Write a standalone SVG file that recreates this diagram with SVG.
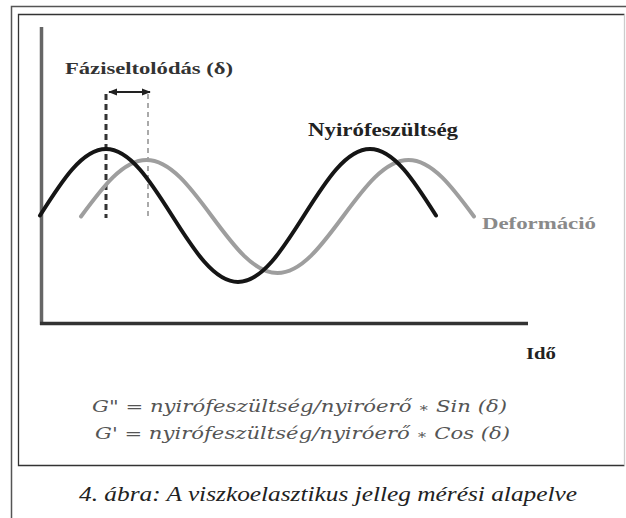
<svg xmlns="http://www.w3.org/2000/svg" width="626" height="518" viewBox="0 0 626 518">
<style>
.lbl{font-family:"Liberation Serif","Times New Roman",serif;font-weight:bold;}
.frm{font-family:"DejaVu Serif","Liberation Serif",serif;font-style:italic;fill:#555;font-size:17px;}
.op{font-size:13px;}
.cap{font-family:"Liberation Serif","Times New Roman",serif;font-style:italic;fill:#222;font-size:21px;}
.curve{fill:none;stroke-width:4;stroke-linecap:round;}
</style>
<defs>
<marker id="ah" viewBox="0 0 10 10" refX="9" refY="5" markerWidth="4.5" markerHeight="4.5" orient="auto-start-reverse" markerUnits="strokeWidth">
<path d="M0,1 L10,5 L0,9 Z" fill="#222"/>
</marker>
</defs>
<rect width="626" height="518" fill="#fff"/>
<g id="frame">
<path d="M11.5,518 V6.5 H626" fill="none" stroke="#555" stroke-width="1.5"/>
<path d="M624.5,14.5 H18.5 V465.5 H624.5" fill="none" stroke="#333" stroke-width="1.3"/>
<path d="M624.5,14.5 V465.5" fill="none" stroke="#ccc" stroke-width="1.3"/>
</g>
<g id="axes">
<line x1="41.5" y1="27" x2="41.5" y2="325" stroke="#666" stroke-width="3.5"/>
<line x1="40" y1="323.5" x2="528" y2="323.5" stroke="#333" stroke-width="3.5"/>
</g>
<g id="phase-shift">
<line x1="106" y1="94" x2="106" y2="218" stroke="#333" stroke-width="3" stroke-dasharray="6 4"/>
<line x1="148" y1="94" x2="148" y2="218" stroke="#aaa" stroke-width="2" stroke-dasharray="5 4"/>
<line x1="109" y1="92" x2="150" y2="92" stroke="#222" stroke-width="2" marker-start="url(#ah)" marker-end="url(#ah)"/>
</g>
<g id="strain">
<path class="curve" stroke="#9e9e9e" d="M81,216.5 C102.36,187.56 122.8,160 146.5,160 C170.2,160 190.64,187.56 212,216.5 C233.36,245.44 253.8,273 277.5,273 C301.2,273 321.64,245.44 343,216.5 C364.36,187.56 384.8,160 408.5,160 C432.2,160 452.64,187.56 474,216.5"/>
</g>
<g id="stress">
<path class="curve" stroke="#151515" d="M40,215.5 C61.52,181.43 82.11,149 106,149 C129.89,149 150.48,181.43 172,215.5 C193.52,249.57 214.11,282 238,282 C261.89,282 282.48,249.57 304,215.5 C325.52,181.43 346.11,149 370,149 C393.89,149 414.48,181.43 436,215.5"/>
</g>
<g id="labels">
<text class="lbl" x="65" y="74" font-size="17" fill="#333" textLength="168" lengthAdjust="spacingAndGlyphs">Fáziseltolódás (δ)</text>
<text class="lbl" x="308" y="136" font-size="18" fill="#222" textLength="150" lengthAdjust="spacingAndGlyphs">Nyirófeszültség</text>
<text class="lbl" x="482" y="229" font-size="17" fill="#8a8a8a" textLength="114" lengthAdjust="spacingAndGlyphs">Deformáció</text>
<text class="lbl" x="526" y="359" font-size="17" fill="#222" textLength="30" lengthAdjust="spacingAndGlyphs">Idő</text>
</g>
<g id="formulas">
<text class="frm" x="92" y="412" textLength="415" lengthAdjust="spacingAndGlyphs">G" = nyirófeszültség/nyiróerő <tspan class="op">∗</tspan> Sin (δ)</text>
<text class="frm" x="95" y="439" textLength="415" lengthAdjust="spacingAndGlyphs">G' = nyirófeszültség/nyiróerő <tspan class="op">∗</tspan> Cos (δ)</text>
</g>
<g id="caption">
<text class="cap" x="79" y="501" textLength="498" lengthAdjust="spacingAndGlyphs">4. ábra: A viszkoelasztikus jelleg mérési alapelve</text>
</g>
</svg>
